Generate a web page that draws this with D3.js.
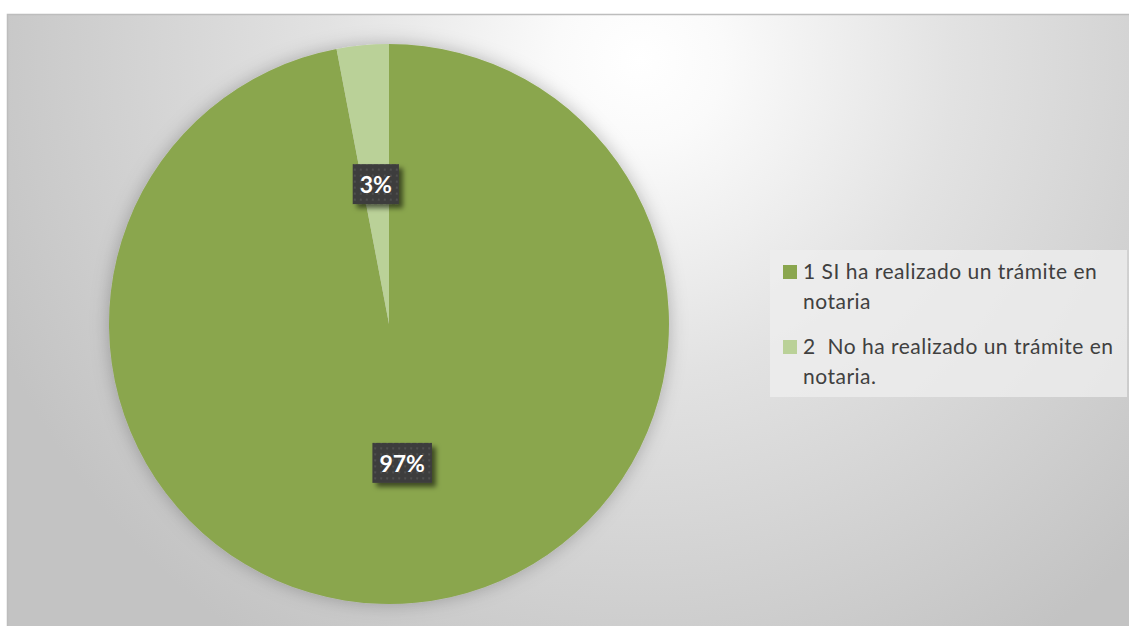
<!DOCTYPE html>
<html>
<head>
<meta charset="utf-8">
<script src="https://cdn.jsdelivr.net/npm/d3@7"></script>
<style>
  html, body { margin: 0; padding: 0; background: #fff; }
  svg { display: block; }
</style>
</head>
<body>
<div id="chart"></div>
<script>
// data
const categories = ["1 SI ha realizado un trámite en notaria", "2  No ha realizado un trámite en notaria."];
const legendLines = [["1 SI ha realizado un trámite en", "notaria"], ["2  No ha realizado un trámite en", "notaria."]];
const values = [97, 3];
const colors = ["#8aa64e", "#bad198"];

const width = 1129;
const height = 626;
const cx = 389, cy = 324, radius = 280;

const svg = d3.select("#chart")
    .append("svg")
    .attr("width", width)
    .attr("height", height)
    .attr("viewBox", [0, 0, width, height]);

const defs = svg.append("defs");

// background radial gradient
const bg = defs.append("radialGradient")
    .attr("id", "bg")
    .attr("gradientUnits", "userSpaceOnUse")
    .attr("cx", 640).attr("cy", 60).attr("r", 700);
bg.append("stop").attr("offset", "0%").attr("stop-color", "#ffffff");
bg.append("stop").attr("offset", "12%").attr("stop-color", "#fafafa");
bg.append("stop").attr("offset", "45%").attr("stop-color", "#e2e2e2");
bg.append("stop").attr("offset", "100%").attr("stop-color", "#c3c3c3");

// soft shadow for the pie
const pieShadow = defs.append("filter").attr("id", "pieShadow")
    .attr("x", "-20%").attr("y", "-20%").attr("width", "140%").attr("height", "140%");
pieShadow.append("feDropShadow")
    .attr("dx", 0).attr("dy", 0).attr("stdDeviation", 9)
    .attr("flood-color", "#000").attr("flood-opacity", 0.25);

// shadow for label boxes
const boxShadow = defs.append("filter").attr("id", "boxShadow")
    .attr("x", "-30%").attr("y", "-30%").attr("width", "170%").attr("height", "170%");
boxShadow.append("feDropShadow")
    .attr("dx", 4).attr("dy", 4).attr("stdDeviation", 2.5)
    .attr("flood-color", "#000").attr("flood-opacity", 0.55);

// dotted texture for label boxes
const dots = defs.append("pattern")
    .attr("id", "dots")
    .attr("patternUnits", "userSpaceOnUse")
    .attr("width", 6).attr("height", 6);
dots.append("rect").attr("width", 6).attr("height", 6).attr("fill", "#3d3d3d");
dots.append("rect").attr("x", 2).attr("y", 2).attr("width", 2).attr("height", 2).attr("fill", "#4f4f4f");

// chart area
svg.append("rect")
    .attr("x", 7.5).attr("y", 14.5)
    .attr("width", width).attr("height", height)
    .attr("fill", "url(#bg)")
    .attr("stroke", "#bdbdbd")
    .attr("stroke-width", 1.5);

const pie = d3.pie().sort(null).value(d => d);
const arcs = pie(values);
const arc = d3.arc().innerRadius(0).outerRadius(radius);
const labelArc = d3.arc().innerRadius(radius * 0.5).outerRadius(radius * 0.5);

const g = svg.append("g").attr("transform", `translate(${cx},${cy})`);

g.append("g")
    .attr("filter", "url(#pieShadow)")
    .selectAll("path")
    .data(arcs)
    .join("path")
    .attr("d", arc)
    .attr("fill", (d, i) => colors[i]);

// percentage labels
const fmt = d3.format(".0%");
const total = d3.sum(values);
const labels = g.append("g")
    .selectAll("g")
    .data(arcs)
    .join("g")
    .attr("transform", d => `translate(${labelArc.centroid(d)})`);

labels.each(function (d) {
    const sel = d3.select(this);
    const txt = sel.append("text")
        .attr("text-anchor", "middle")
        .attr("dy", "0.36em")
        .attr("fill", "#ffffff")
        .style("font-family", "Lato, 'Open Sans', sans-serif")
        .style("font-weight", "bold")
        .style("font-size", "23px")
        .text(fmt(d.data / total));
    const w = txt.node().getComputedTextLength();
    sel.insert("rect", "text")
        .attr("x", -w / 2 - 7)
        .attr("y", -20.5)
        .attr("width", w + 14)
        .attr("height", 40)
        .attr("fill", "url(#dots)")
        .attr("filter", "url(#boxShadow)");
});

// legend
const legend = svg.append("g");
legend.append("rect")
    .attr("x", 770).attr("y", 250)
    .attr("width", 357).attr("height", 147)
    .attr("fill", "#ededed")
    .attr("fill-opacity", 0.8);

const items = legend.selectAll("g.item")
    .data(categories)
    .join("g")
    .attr("class", "item")
    .attr("transform", (d, i) => `translate(783,${265 + i * 75})`);

items.append("rect")
    .attr("width", 14).attr("height", 14)
    .attr("fill", (d, i) => colors[i]);

items.append("text")
    .attr("fill", "#404040")
    .style("font-family", "Lato, 'Open Sans', sans-serif")
    .style("font-size", "21px")
    .style("letter-spacing", "0.5px")
    .style("white-space", "pre")
    .selectAll("tspan")
    .data((d, i) => legendLines[i])
    .join("tspan")
    .attr("x", 20)
    .attr("y", (d, j) => 14 + j * 30)
    .text(d => d);
</script>
</body>
</html>
